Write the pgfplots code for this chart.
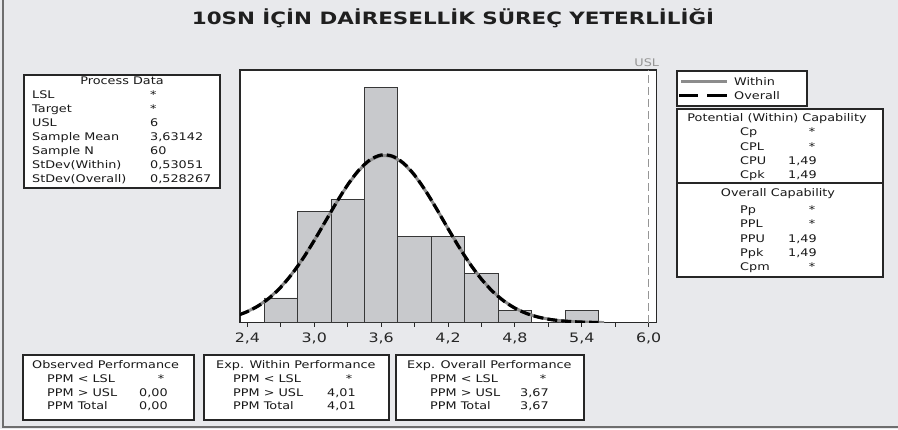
\documentclass[border=0pt]{standalone}
\usepackage{fontspec}
\usepackage{pgfplots}
\pgfplotsset{compat=1.18}
\setmainfont{DejaVu Sans}[FakeStretch=1.22]
\newfontfamily\titlefont{DejaVu Sans}[FakeStretch=1.26]
\definecolor{bg}{RGB}{232,233,236}
\definecolor{barfill}{RGB}{200,201,204}
\definecolor{baredge}{RGB}{55,55,55}
\definecolor{withinc}{RGB}{140,140,140}
\definecolor{uslc}{RGB}{150,150,150}
\definecolor{axisc}{RGB}{40,40,40}
\definecolor{framec}{RGB}{110,110,110}
\newcommand{\sz}{\fontsize{10.5bp}{12bp}\selectfont}
\begin{document}
\begin{tikzpicture}[x=1bp,y=1bp,
  t/.style={anchor=base west,inner sep=0pt,font=\sz,text=black!90},
  tc/.style={anchor=base,inner sep=0pt,font=\sz,text=black!90},
  bx/.style={draw=black!85,line width=1.2bp,fill=white}]
\useasboundingbox (0,0) rectangle (898,429);
\fill[bg] (0,0) rectangle (898,429);
\draw[framec,line width=1.5bp] (3,429) -- (3,2) -- (898,2);
% title
\node[anchor=base,inner sep=0pt,text=black!88] at (453,404) {\titlefont\bfseries\fontsize{17bp}{20bp}\selectfont 10SN İÇİN DAİRESELLİK SÜREÇ YETERLİLİĞİ};
% process data
\draw[bx] (24,354) rectangle (220,241);
\node[tc] at (122,345) {Process Data};
\node[t] at (32,331) {LSL};            \node[t] at (150,331) {*};
\node[t] at (32,316.9) {Target};       \node[t] at (150,316.9) {*};
\node[t] at (32,302.8) {USL};          \node[t] at (150,302.8) {6};
\node[t] at (32,288.7) {Sample Mean};  \node[t] at (150,288.7) {3,63142};
\node[t] at (32,274.6) {Sample N};     \node[t] at (150,274.6) {60};
\node[t] at (32,260.5) {StDev(Within)};  \node[t] at (150,260.5) {0,53051};
\node[t] at (32,246.4) {StDev(Overall)}; \node[t] at (150,246.4) {0,528267};
% legend
\draw[bx] (677,358) rectangle (807,323);
\draw[withinc,line width=3bp] (681,348) -- (727,348);
\node[t] at (734,344) {Within};
\draw[black,line width=3bp] (679,334) -- (698,334) (707,334) -- (727,334);
\node[t] at (734,330) {Overall};
% capability
\draw[bx] (677,320) rectangle (883,152);
\draw[black!85,line width=1.2bp] (677,246) -- (883,246);
\node[tc] at (777,308) {Potential (Within) Capability};
\node[t] at (740,294) {Cp};  \node[tc] at (812,294) {*};
\node[t] at (740,279) {CPL}; \node[tc] at (812,279) {*};
\node[t] at (740,265) {CPU}; \node[t] at (788,265) {1,49};
\node[t] at (740,250.5) {Cpk}; \node[t] at (788,250.5) {1,49};
\node[tc] at (778,233) {Overall Capability};
\node[t] at (740,216) {Pp};  \node[tc] at (812,216) {*};
\node[t] at (740,201.5) {PPL}; \node[tc] at (812,201.5) {*};
\node[t] at (740,186.5) {PPU}; \node[t] at (788,186.5) {1,49};
\node[t] at (740,172.5) {Ppk}; \node[t] at (788,172.5) {1,49};
\node[t] at (740,158.5) {Cpm}; \node[tc] at (812,158.5) {*};
% bottom boxes
\draw[bx] (23,74) rectangle (194,9);
\node[t] at (32,60.2) {Observed Performance};
\node[t] at (47,46.2) {PPM < LSL};  \node[tc] at (161,46.2) {*};
\node[t] at (47,32.5) {PPM > USL};  \node[t] at (139,32.5) {0,00};
\node[t] at (47,19.5) {PPM Total};  \node[t] at (139,19.5) {0,00};
\draw[bx] (204,74) rectangle (389,9);
\node[t] at (216,60.2) {Exp. Within Performance};
\node[t] at (233,46.2) {PPM < LSL};  \node[tc] at (349,46.2) {*};
\node[t] at (233,32.5) {PPM > USL};  \node[t] at (327,32.5) {4,01};
\node[t] at (233,19.5) {PPM Total};  \node[t] at (327,19.5) {4,01};
\draw[bx] (396,74) rectangle (584,9);
\node[t] at (407,60.2) {Exp. Overall Performance};
\node[t] at (430,46.2) {PPM < LSL};  \node[tc] at (543,46.2) {*};
\node[t] at (430,32.5) {PPM > USL};  \node[t] at (520,32.5) {3,67};
\node[t] at (430,19.5) {PPM Total};  \node[t] at (520,19.5) {3,67};
% USL label
\node[inner sep=0pt,font=\sz,text=uslc] at (646.7,366.7) {USL};
\begin{axis}[
  at={(240bp,106.3bp)}, anchor=south west,
  width=416.7bp, height=252.7bp, scale only axis,
  axis background/.style={fill=white},
  axis line style={draw=axisc,line width=1.1bp},
  xmin=2.334, xmax=6.072, ymin=0, ymax=20.45,
  ytick=\empty,
  xtick={2.4,3.0,3.6,4.2,4.8,5.4,6.0},
  xticklabels={{2,4},{3,0},{3,6},{4,2},{4,8},{5,4},{6,0}},
  minor xtick={2.7,3.3,3.9,4.5,5.1,5.7},
  tick align=outside, xtick pos=bottom,
  major tick length=4bp, minor tick length=4bp,
  every tick/.style={draw=axisc,line width=1bp},
  xticklabel style={font=\fontsize{13bp}{15bp}\selectfont,text=black!85,yshift=-3bp},
]
\addplot[ybar interval,fill=barfill,draw=baredge,line width=0.9bp] coordinates {
(2.55,2) (2.85,9) (3.15,10) (3.45,19) (3.75,7) (4.05,7) (4.35,4) (4.65,1) (4.95,0) (5.25,1) (5.55,0)};
\addplot[withinc,line width=3bp,smooth] coordinates {
(2.33,0.668) (2.4,0.914) (2.5,1.393) (2.6,2.045) (2.7,2.898) (2.8,3.964) (2.9,5.233)
(3.0,6.666) (3.1,8.197) (3.2,9.725) (3.3,11.137) (3.4,12.307) (3.5,13.127) (3.6,13.512)
(3.7,13.424) (3.8,12.869) (3.9,11.908) (4.0,10.635) (4.1,9.164) (4.2,7.622) (4.3,6.118)
(4.4,4.739) (4.5,3.543) (4.6,2.556) (4.7,1.780) (4.8,1.196) (4.9,0.776) (5.0,0.486)
(5.1,0.293) (5.2,0.171) (5.3,0.096) (5.4,0.052) (5.5,0.027) (5.6,0.014)};
\addplot[black,line width=3.2bp,dash pattern=on 10bp off 4bp,smooth] coordinates {
(2.33,0.654) (2.4,0.897) (2.5,1.372) (2.6,2.021) (2.7,2.872) (2.8,3.939) (2.9,5.212)
(3.0,6.654) (3.1,8.196) (3.2,9.739) (3.3,11.165) (3.4,12.349) (3.5,13.179) (3.6,13.569)
(3.7,13.479) (3.8,12.918) (3.9,11.945) (4.0,10.657) (4.1,9.172) (4.2,7.617) (4.3,6.102)
(4.4,4.717) (4.5,3.518) (4.6,2.531) (4.7,1.757) (4.8,1.177) (4.9,0.761) (5.0,0.474)
(5.1,0.285) (5.2,0.166) (5.3,0.093) (5.4,0.050) (5.5,0.026) (5.55,0.019)};
\addplot[uslc,line width=1.3bp,dash pattern=on 8bp off 4bp] coordinates {(6,0) (6,20.45)};
\end{axis}
\end{tikzpicture}
\end{document}
